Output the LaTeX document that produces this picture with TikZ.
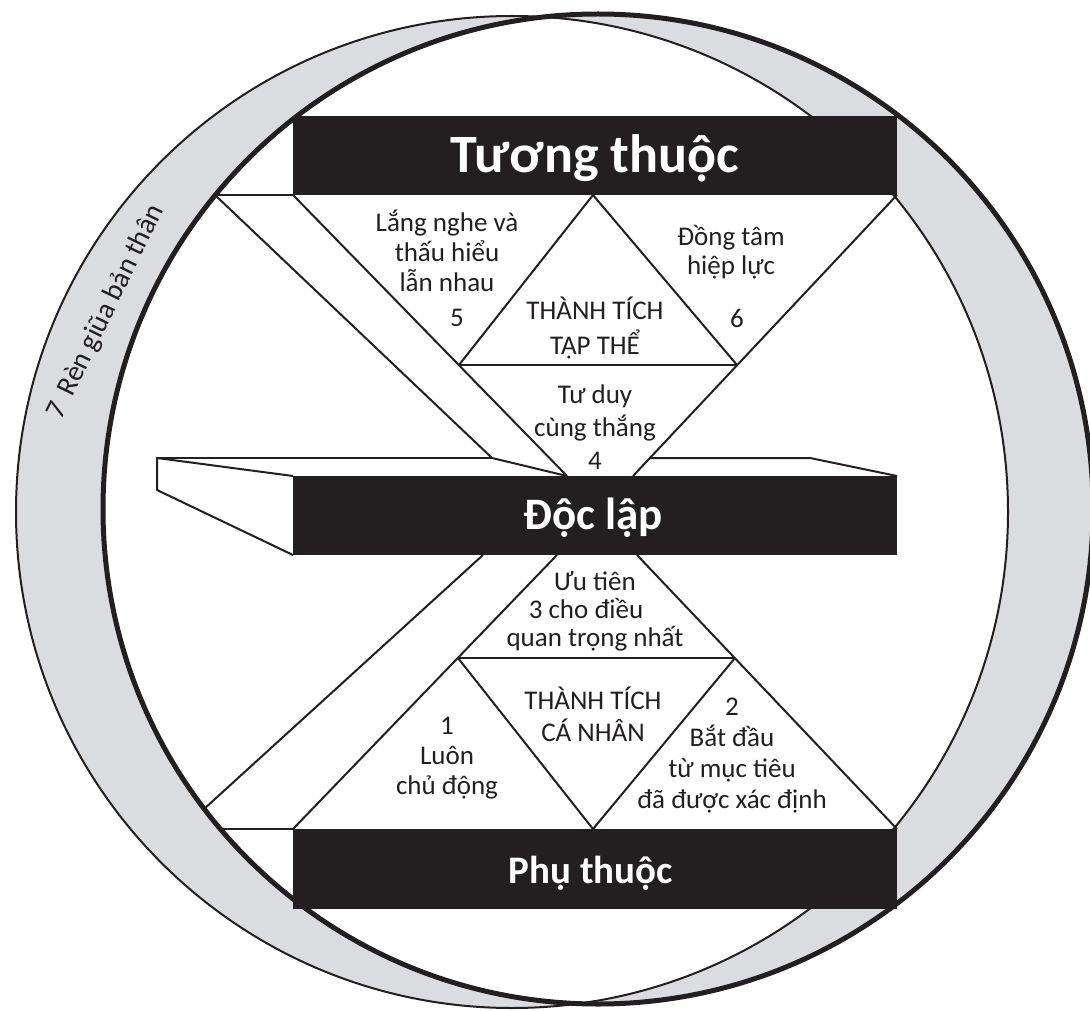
\documentclass[tikz,border=0pt]{standalone}
\usepackage{fontspec}
\setmainfont{Carlito}
\definecolor{ink}{HTML}{231F20}
\definecolor{bandgray}{RGB}{219,220,223}
\begin{document}
\begin{tikzpicture}[x=1pt,y=-1pt,line join=round,
  ln/.style={draw=ink,line width=2pt},
  titletext/.style={text=white,anchor=base,font=\bfseries\fontsize{#1}{#1}\selectfont},
  lbl/.style={text=ink,align=center,font=\fontsize{27}{#1}\selectfont}]
\useasboundingbox (0,0) rectangle (1090,1011);
% two offset circles, crescents filled gray
\fill[bandgray,even odd rule] (512,512) circle[radius=496pt] (598,509) circle[radius=495pt];
\draw[ink,line width=2pt] (512,512) circle[radius=496pt];
\draw[ink,line width=5pt] (598,509) circle[radius=495pt];
% key points
\coordinate (TL) at (293,195); \coordinate (TR) at (897,195); \coordinate (TA) at (593,195);
\coordinate (UL) at (567,476); \coordinate (UR) at (633,476);
\coordinate (ML) at (459,365); \coordinate (MR) at (737,365);
\coordinate (LL) at (557,555); \coordinate (LR) at (637,555);
\coordinate (BL) at (293,829); \coordinate (BR) at (897,829); \coordinate (BA) at (593,829);
\coordinate (NL) at (458,658); \coordinate (NR) at (735,658);
\coordinate (A0) at (215,195); \coordinate (A1) at (492,458);
\coordinate (C0) at (204,809); \coordinate (C1) at (483,555); \coordinate (C2) at (220,829);
\coordinate (S1) at (157,458); \coordinate (S2) at (157,490);
\coordinate (S3) at (650,458); \coordinate (S4) at (810,458); \coordinate (S5) at (897,476);
\coordinate (SB) at (293,555); \coordinate (ST) at (293,476);
% slab
\draw[ln] (ST) -- (S1) -- (S2) -- (SB);
\draw[ln] (S1) -- (A1);
\draw[ln] (S3) -- (S4) -- (S5);
% upper-left band
\draw[ln] (A0) -- (TL);
\draw[ln] (A0) -- (A1) -- (UL);
% lower-left band
\draw[ln] (C2) -- (BL);
\draw[ln] (C0) -- (C1);
% upper hourglass
\draw[ln] (TL) -- (UL);
\draw[ln] (TR) -- (UR);
\draw[ln] (ML) -- (MR);
\draw[ln] (ML) -- (TA) -- (MR);
% lower hourglass
\draw[ln] (LL) -- (BL);
\draw[ln] (LR) -- (BR);
\draw[ln] (NL) -- (NR);
\draw[ln] (NL) -- (BA) -- (NR);
% bars
\fill[ink] (293,116) rectangle (897,195);
\fill[ink] (293,476) rectangle (897,555);
\fill[ink] (293,829) rectangle (897,909);
\node[titletext=54] (t1) at (595,173) {Tương thuộc};
\node[titletext=45] (t2) at (593,529) {Độc lập};
\node[titletext=39] (t3) at (591,883) {Phụ thuộc};
% labels
\node[lbl=30] (l5) at (447,251) {Lắng nghe và\\thấu hiểu\\lẫn nhau};
\node[lbl=30] (n5) at (457,318) {5};
\node[lbl=35] (g1) at (595,328) {THÀNH TÍCH\\TẬP THỂ};
\node[lbl=29] (l6) at (731,252) {Đồng tâm\\hiệp lực};
\node[lbl=30] (n6) at (737,318) {6};
\node[lbl=33] (l4) at (595,427) {Tư duy\\cùng thắng\\4};
\node[lbl=28] (l3) at (595,611) {Ưu tiên\\3 cho điều\rule{18pt}{0pt}\\quan trọng nhất};
\node[lbl=32] (g2) at (593,714) {THÀNH TÍCH\\CÁ NHÂN};
\node[lbl=30] (l1) at (447,758) {1\\Luôn\\chủ động};
\node[lbl=31] (l2) at (732,756) {2\\Bắt đầu\\từ mục tiêu\\đã được xác định};
\node[text=ink,rotate=64,font=\fontsize{28.5}{28.5}\selectfont] (l7) at (106,312) {7\hspace{0.4em}Rèn giũa bản thân};
\end{tikzpicture}
\end{document}
